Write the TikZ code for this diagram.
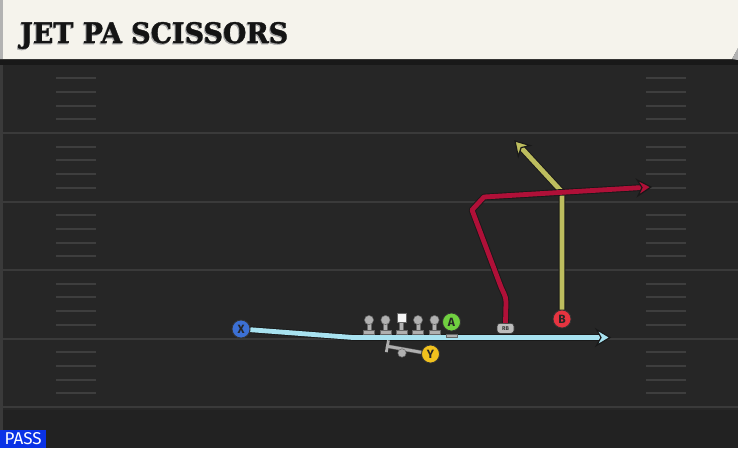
\documentclass[tikz,border=0pt]{standalone}
\usepackage{fontspec}
\setmainfont{Fira Sans}
\newfontfamily\titlefont{DejaVu Serif}[BoldFeatures={FakeBold=1.3}]
\usetikzlibrary{arrows.meta,calc}
\definecolor{field}{HTML}{262626}
\definecolor{fieldlow}{HTML}{222222}
\definecolor{yline}{HTML}{3A3A3A}
\definecolor{hashc}{HTML}{3E3E3E}
\definecolor{titlebg}{HTML}{F5F3EC}
\definecolor{pblue}{HTML}{3C70D4}
\definecolor{pgreen}{HTML}{70D040}
\definecolor{pred}{HTML}{E63440}
\definecolor{pyellow}{HTML}{F2C21E}
\definecolor{rblue}{HTML}{A8E2F0}
\definecolor{rred}{HTML}{B01038}
\definecolor{rolive}{HTML}{BDBD5E}
\definecolor{lgray}{HTML}{B0B0B0}
\definecolor{passblue}{HTML}{0A32E6}
\tikzset{
  yard/.style={draw=yline, line width=2pt},
  hashm/.style={draw=hashc, line width=2pt},
  player/.style={circle, minimum size=18pt, inner sep=0pt, draw=black!80, line width=0.8pt,
     font=\bfseries\fontsize{12}{12}\selectfont, text=black!85},
  rtout/.style={draw=black!90, line width=6.6pt, line join=round, shorten >=10pt},
  route/.style={draw=#1, line width=4.8pt, line join=round, shorten >=7.5pt},
  gear/.style={fill=lgray, draw=black!60, line width=0.5pt},
}
% arrowhead at tip #1, pointing away from #2, filled with #3
\newcommand\routehead[3]{%
  \filldraw[fill=#3, draw=black!90, line width=1.2pt, line join=miter]
    (#1) -- ($($(#1)!13.5pt!(#2)$)!8pt!90:(#1)$) -- ($(#1)!9pt!(#2)$)
    -- ($($(#1)!13.5pt!(#2)$)!8pt!-90:(#1)$) -- cycle;}
\begin{document}
\begin{tikzpicture}[x=1pt,y=-1pt]
\useasboundingbox (0,0) rectangle (738,448);
% field
\fill[field] (0,0) rectangle (738,448);
\fill[fieldlow] (0,410) rectangle (738,448);
\fill[yline] (0,60) rectangle (2.5,448);
\foreach \yy in {133,201.5,270,338.5,407} {\draw[yard] (0,\yy) -- (738,\yy);}
\foreach \k in {0,...,4} {
  \foreach \j in {1,...,4} {
    \pgfmathsetmacro\yy{64.5+68.5*\k+13.7*\j}
    \draw[hashm] (56,\yy) -- (96,\yy);
    \draw[hashm] (646,\yy) -- (686,\yy);
  }
}
% title bar
\fill[black!90] (0,58) rectangle (738,64.5);
\fill[titlebg] (0,0) -- (738,0) -- (738,48) -- (732,59) -- (0,59) -- cycle;
\fill[gray!60] (732,59) -- (738,48) -- (738,60) -- cycle;
\fill[gray!60] (0,0) rectangle (2.5,59);
\node[anchor=base west, inner sep=0pt, text=gray!70] (titleshadow) at (19,44.2)
  {\resizebox{268pt}{21pt}{\titlefont\bfseries JET PA SCISSORS}};
\node[anchor=base west, inner sep=0pt, text=black!92] (title) at (20,43)
  {\resizebox{268pt}{21pt}{\titlefont\bfseries JET PA SCISSORS}};
% player nodes
\node[player, fill=pblue] (X) at (241,329) {X};
\node[player, fill=pred] (B) at (562,319) {B};
\node[player, fill=pyellow] (Y) at (430.5,354) {Y};
\node[rectangle, rounded corners=3pt, minimum width=17pt, minimum height=10pt, inner sep=0pt,
      fill=lgray!85, draw=black!80, line width=0.6pt, text=black!80,
      font=\bfseries\fontsize{5.5}{5.5}\selectfont] (RB) at (505.5,328.3) {RB};
% route coordinates
\coordinate (xb) at (353,337.5);
\coordinate (xe) at (610,337.5);
\coordinate (b1) at (562,192);
\coordinate (be) at (515,141);
\coordinate (r1) at (506,302);
\coordinate (r2) at (501,287);
\coordinate (r3) at (472,210);
\coordinate (r4) at (484,197);
\coordinate (re) at (651,187);
\coordinate (yblk) at (386,346);
% X route
\draw[rtout] (X) -- (xb) -- (xe);
\draw[route=rblue] (X) -- (xb) -- (xe);
\routehead{xe}{xb}{rblue}
% B route
\draw[rtout] (B) -- (b1) -- (be);
\draw[route=rolive] (B) -- (b1) -- (be);
\routehead{be}{b1}{rolive}
% RB route
\draw[rtout] (RB.north) -- (r1) .. controls (506,296) and (503,292) .. (r2) -- (r3) -- (r4) -- (re);
\draw[route=rred] (RB.north) -- (r1) .. controls (506,296) and (503,292) .. (r2) -- (r3) -- (r4) -- (re);
\routehead{re}{r4}{rred}
% Y block
\draw[draw=black!60, line width=3.8pt] (Y) -- (yblk);
\draw[draw=lgray, line width=2.8pt, -{Bar[width=12pt, line width=2.8pt]}] (Y) -- (yblk);
\fill[gear] (402,353) circle (4.2);
% linemen
\foreach \x in {369,385.5,418,434.5} {
  \fill[gear] (\x-2.2,321) rectangle (\x+2.2,332);
  \fill[gear] (\x,320) circle (4.6);
  \fill[gear] (\x-5.5,330.5) rectangle (\x+5.5,334.5);
}
\fill[gear] (399.3,321) rectangle (403.7,332);
\fill[fill=white!92!gray, draw=black!60, line width=0.5pt] (397,313.5) rectangle (406,322.5);
\fill[gear] (396,330.5) rectangle (407,334.5);
\fill[gear] (446.5,334.5) rectangle (457,337.5);
\node[player, fill=pgreen] (A) at (451.5,322) {A};
% PASS label
\node[fill=passblue, anchor=south west, minimum width=46pt, minimum height=18pt, inner sep=0pt,
      text=white] (pass) at (0,448) {\resizebox{37pt}{12pt}{PASS}};
\end{tikzpicture}
\end{document}
